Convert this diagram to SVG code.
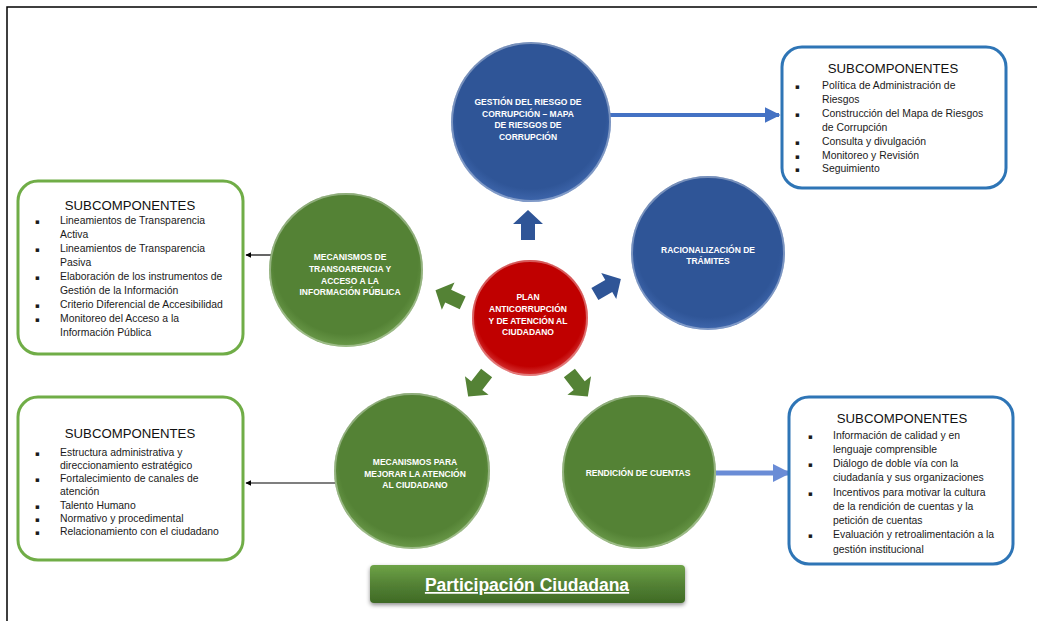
<svg xmlns="http://www.w3.org/2000/svg" width="1037" height="621" viewBox="0 0 1037 621">
<defs>
<style>
.ct{font-family:"Liberation Sans",Arial,sans-serif;font-weight:bold;font-size:8.5px;fill:#ffffff;text-anchor:middle}
.tt{font-family:"Liberation Sans",Arial,sans-serif;font-size:13.2px;fill:#111;text-anchor:middle}
.bt{font-family:"Liberation Sans",Arial,sans-serif;font-size:10.4px;fill:#1a1a1a}
.bu{font-family:"DejaVu Sans","Liberation Sans",sans-serif;font-size:7px;fill:#1a1a1a}
.blue{fill:url(#gb)}
.green{fill:url(#gg)}
.rim{fill:none;stroke:#ffffff;stroke-opacity:0.35;stroke-width:2}
.bx{fill:#ffffff;stroke-width:3}
</style>
<radialGradient id="gb" cx="50%" cy="45%" r="55%"><stop offset="0.85" stop-color="#2f5597"/><stop offset="1" stop-color="#3f67ad"/></radialGradient>
<radialGradient id="gg" cx="50%" cy="45%" r="55%"><stop offset="0.85" stop-color="#548235"/><stop offset="1" stop-color="#6b9a4a"/></radialGradient>
<radialGradient id="gr" cx="50%" cy="45%" r="55%"><stop offset="0.85" stop-color="#c00000"/><stop offset="1" stop-color="#d83a3a"/></radialGradient>
<linearGradient id="gbtn" x1="0" y1="0" x2="0" y2="1"><stop offset="0" stop-color="#6ea347"/><stop offset="0.5" stop-color="#548235"/><stop offset="1" stop-color="#3f6a25"/></linearGradient>
<marker id="mb" viewBox="0 0 10 10" refX="9" refY="5" markerWidth="4" markerHeight="4" orient="auto" markerUnits="strokeWidth"><path d="M0,0 L10,5 L0,10 Z" fill="#4472c4"/></marker>
<marker id="mlb" viewBox="0 0 10 10" refX="9" refY="5" markerWidth="3.6" markerHeight="3.6" orient="auto" markerUnits="strokeWidth"><path d="M0,0 L10,5 L0,10 Z" fill="#6a8cd6"/></marker>
<marker id="mk" viewBox="0 0 10 10" refX="9" refY="5" markerWidth="5" markerHeight="5" orient="auto" markerUnits="strokeWidth"><path d="M0,0 L10,5 L0,10 Z" fill="#000"/></marker>
<path id="blk" d="M-14,-7 H2 V-15 L16,0 L2,15 V7 H-14 Z"/>
<filter id="sh" x="-10%" y="-30%" width="120%" height="170%"><feDropShadow dx="0" dy="2" stdDeviation="2" flood-opacity="0.45"/></filter>
</defs>
<rect width="1037" height="621" fill="#ffffff"/>
<path d="M7,621 V7 H1037" fill="none" stroke="#000" stroke-width="1.5"/>

<g id="connectors">
<line x1="608" y1="115" x2="779" y2="115" stroke="#4472c4" stroke-width="4" marker-end="url(#mb)"/>
<line x1="716" y1="473" x2="789" y2="473" stroke="#6a8cd6" stroke-width="5" marker-end="url(#mlb)"/>
<line x1="271" y1="255" x2="246" y2="255" stroke="#000" stroke-width="1.2" marker-end="url(#mk)"/>
<line x1="336" y1="483" x2="246" y2="483" stroke="#000" stroke-width="1.2" marker-end="url(#mk)"/>
<use href="#blk" transform="translate(528,226) rotate(-90)" fill="#2f5597"/>
<use href="#blk" transform="translate(607,287) rotate(-30)" fill="#2f5597"/>
<use href="#blk" transform="translate(450,297) rotate(205)" fill="#548235"/>
<use href="#blk" transform="translate(478,384) rotate(128)" fill="#548235"/>
<use href="#blk" transform="translate(578,384) rotate(52)" fill="#548235"/>
</g>

<g id="center">
<circle cx="530" cy="318" r="58" fill="url(#gr)"/>
<circle cx="530" cy="318" r="57" class="rim"/>
<text class="ct" x="528" y="300">PLAN</text>
<text class="ct" x="528" y="312">ANTICORRUPCIÓN</text>
<text class="ct" x="528" y="324">Y DE ATENCIÓN AL</text>
<text class="ct" x="528" y="335">CIUDADANO</text>
</g>

<g id="riesgo">
<circle cx="531" cy="122" r="80" class="blue"/>
<circle cx="531" cy="122" r="79" class="rim"/>
<text class="ct" x="528" y="105">GESTIÓN DEL RIESGO DE</text>
<text class="ct" x="528" y="116.5">CORRUPCIÓN – MAPA</text>
<text class="ct" x="528" y="128">DE RIESGOS DE</text>
<text class="ct" x="528" y="139.5">CORRUPCIÓN</text>
</g>

<g id="tramites">
<circle cx="708" cy="253" r="77" class="blue"/>
<circle cx="708" cy="253" r="76" class="rim"/>
<text class="ct" x="708" y="253">RACIONALIZACIÓN DE</text>
<text class="ct" x="708" y="264">TRÁMITES</text>
</g>

<g id="transparencia">
<circle cx="346" cy="270" r="77" class="green"/>
<circle cx="346" cy="270" r="76" class="rim"/>
<text class="ct" x="350" y="260">MECANISMOS DE</text>
<text class="ct" x="350" y="272">TRANSOARENCIA Y</text>
<text class="ct" x="350" y="284">ACCESO A LA</text>
<text class="ct" x="350" y="295">INFORMACIÓN PÚBLICA</text>
</g>

<g id="atencion">
<circle cx="412" cy="471" r="78" class="green"/>
<circle cx="412" cy="471" r="77" class="rim"/>
<text class="ct" x="415" y="465">MECANISMOS PARA</text>
<text class="ct" x="415" y="476.5">MEJORAR LA ATENCIÓN</text>
<text class="ct" x="415" y="488">AL CIUDADANO</text>
</g>

<g id="rendicion">
<circle cx="639" cy="472" r="77" class="green"/>
<circle cx="639" cy="472" r="76" class="rim"/>
<text class="ct" x="638" y="476">RENDICIÓN DE CUENTAS</text>
</g>

<g id="box-riesgo">
<rect x="782" y="47" width="224" height="141" rx="20" class="bx" stroke="#2e75b6"/>
<text class="tt" x="893" y="73">SUBCOMPONENTES</text>
<text class="bu" x="795" y="89">▪</text><text class="bt" x="822" y="89">Política de Administración de</text>
<text class="bt" x="822" y="103">Riesgos</text>
<text class="bu" x="795" y="117">▪</text><text class="bt" x="822" y="117">Construcción del Mapa de Riesgos</text>
<text class="bt" x="822" y="131">de Corrupción</text>
<text class="bu" x="795" y="145">▪</text><text class="bt" x="822" y="145">Consulta y divulgación</text>
<text class="bu" x="795" y="158.5">▪</text><text class="bt" x="822" y="158.5">Monitoreo y Revisión</text>
<text class="bu" x="795" y="172">▪</text><text class="bt" x="822" y="172">Seguimiento</text>
</g>

<g id="box-transparencia">
<rect x="18" y="181" width="225" height="173" rx="20" class="bx" stroke="#70ad47"/>
<text class="tt" x="130" y="210">SUBCOMPONENTES</text>
<text class="bu" x="35" y="224">▪</text><text class="bt" x="60" y="224">Lineamientos de Transparencia</text>
<text class="bt" x="60" y="238">Activa</text>
<text class="bu" x="35" y="252">▪</text><text class="bt" x="60" y="252">Lineamientos de Transparencia</text>
<text class="bt" x="60" y="266">Pasiva</text>
<text class="bu" x="35" y="280">▪</text><text class="bt" x="60" y="280">Elaboración de los instrumentos de</text>
<text class="bt" x="60" y="294">Gestión de la Información</text>
<text class="bu" x="35" y="308">▪</text><text class="bt" x="60" y="308">Criterio Diferencial de Accesibilidad</text>
<text class="bu" x="35" y="322">▪</text><text class="bt" x="60" y="322">Monitoreo del Acceso a la</text>
<text class="bt" x="60" y="336">Información Pública</text>
</g>

<g id="box-atencion">
<rect x="18" y="397" width="225" height="163" rx="20" class="bx" stroke="#70ad47"/>
<text class="tt" x="130" y="438">SUBCOMPONENTES</text>
<text class="bu" x="35" y="455.5">▪</text><text class="bt" x="60" y="455.5">Estructura administrativa y</text>
<text class="bt" x="60" y="468.8">direccionamiento estratégico</text>
<text class="bu" x="35" y="482.1">▪</text><text class="bt" x="60" y="482.1">Fortalecimiento de canales de</text>
<text class="bt" x="60" y="495.4">atención</text>
<text class="bu" x="35" y="508.7">▪</text><text class="bt" x="60" y="508.7">Talento Humano</text>
<text class="bu" x="35" y="522">▪</text><text class="bt" x="60" y="522">Normativo y procedimental</text>
<text class="bu" x="35" y="535.3">▪</text><text class="bt" x="60" y="535.3">Relacionamiento con el ciudadano</text>
</g>

<g id="box-rendicion">
<rect x="789" y="397" width="224" height="167" rx="20" class="bx" stroke="#2e75b6"/>
<text class="tt" x="902" y="423">SUBCOMPONENTES</text>
<text class="bu" x="808" y="438.5">▪</text><text class="bt" x="833" y="438.5">Información de calidad y en</text>
<text class="bt" x="833" y="452.75">lenguaje comprensible</text>
<text class="bu" x="808" y="467">▪</text><text class="bt" x="833" y="467">Diálogo de doble vía con la</text>
<text class="bt" x="833" y="481.25">ciudadanía y sus organizaciones</text>
<text class="bu" x="808" y="495.5">▪</text><text class="bt" x="833" y="495.5">Incentivos para motivar la cultura</text>
<text class="bt" x="833" y="509.75">de la rendición de cuentas y la</text>
<text class="bt" x="833" y="524">petición de cuentas</text>
<text class="bu" x="808" y="538.25">▪</text><text class="bt" x="833" y="538.25">Evaluación y retroalimentación a la</text>
<text class="bt" x="833" y="552.5">gestión institucional</text>
</g>

<g id="participacion">
<rect x="370" y="565" width="315" height="38" rx="4" fill="url(#gbtn)" filter="url(#sh)"/>
<text x="527" y="591" font-family="'Liberation Sans',Arial,sans-serif" font-weight="bold" font-size="17.5" fill="#ffffff" text-anchor="middle" text-decoration="underline">Participación Ciudadana</text>
</g>
</svg>
